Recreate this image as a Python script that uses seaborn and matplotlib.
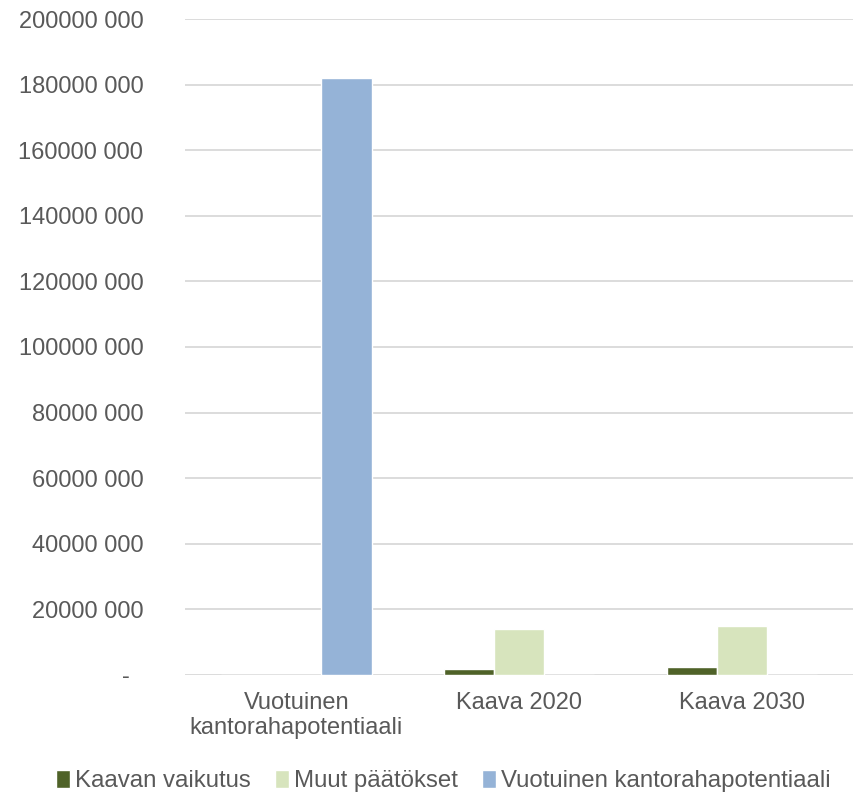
import matplotlib
matplotlib.use("Agg")
import matplotlib.pyplot as plt
import seaborn as sns
import pandas as pd

categories = ["Vuotuinen\nkantorahapotentiaali", "Kaava 2020", "Kaava 2030"]
series_names = ["Kaavan vaikutus", "Muut päätökset", "Vuotuinen kantorahapotentiaali"]
kaavan_vaikutus = [0, 1_800_000, 2_400_000]
muut_paatokset = [0, 14_000_000, 15_000_000]
vuotuinen = [182_000_000, 0, 0]
y_ticks = [0, 20_000_000, 40_000_000, 60_000_000, 80_000_000, 100_000_000,
           120_000_000, 140_000_000, 160_000_000, 180_000_000, 200_000_000]
y_tick_labels = ["-  ", "20000 000", "40000 000", "60000 000", "80000 000", "100000 000",
                 "120000 000", "140000 000", "160000 000", "180000 000", "200000 000"]
colors = ["#4F6228", "#D7E4BD", "#95B3D7"]

rows = []
for name, vals in zip(series_names, [kaavan_vaikutus, muut_paatokset, vuotuinen]):
    for c, v in zip(categories, vals):
        rows.append({"cat": c, "series": name, "value": v})
df = pd.DataFrame(rows)

sns.set_theme(style="white")
plt.rcParams["font.family"] = ["Liberation Sans", "DejaVu Sans"]
text_color = "#595959"

fig = plt.figure(figsize=(8.59, 7.94), dpi=100)
ax = fig.add_axes([0.2154, 0.150, 0.7776, 0.826])

sns.barplot(data=df, x="cat", y="value", hue="series", order=categories,
            hue_order=series_names, palette=colors, width=0.675, ax=ax,
            saturation=1, errorbar=None, legend=True)

ax.set_ylim(0, 200_000_000)
ax.set_xlim(-0.5, 2.5)
ax.set_yticks(y_ticks)
ax.set_yticklabels(y_tick_labels)
ax.grid(axis="y", color="#D9D9D9", linewidth=1.3)
ax.set_axisbelow(True)
for s in ax.spines.values():
    s.set_visible(False)
ax.tick_params(axis="y", length=0, pad=30, labelsize=17, labelcolor=text_color)
ax.tick_params(axis="x", length=0, pad=12, labelsize=17, labelcolor=text_color)
ax.set_xlabel("")
ax.set_ylabel("")

handles, labels = ax.get_legend_handles_labels()
ax.get_legend().remove()
fig.legend(handles, labels, loc="center", bbox_to_anchor=(0.516, 0.016),
           ncol=3, frameon=False, fontsize=17.3, labelcolor=text_color,
           handlelength=0.6, handleheight=0.75, handletextpad=0.2,
           columnspacing=1.0, borderaxespad=0)

fig.savefig("out.png", dpi=100)
